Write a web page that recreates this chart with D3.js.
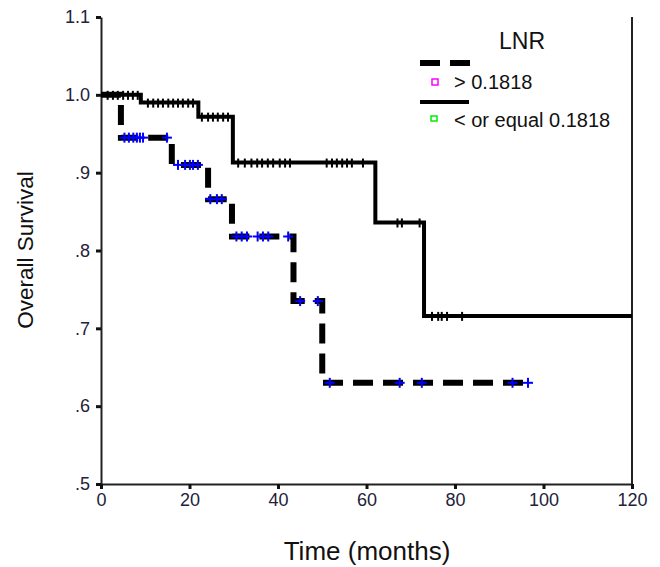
<!DOCTYPE html>
<html>
<head>
<meta charset="utf-8">
<script src="https://cdn.jsdelivr.net/npm/d3@7/dist/d3.min.js"></script>
<style>
  html, body { margin: 0; padding: 0; background: #fff; }
  svg text { font-family: "Liberation Sans", Arial, sans-serif; }
</style>
</head>
<body>
<svg id="chart" width="660" height="567"></svg>
<script>
// ---- data ----
const timeTicks = [0, 20, 40, 60, 80, 100, 120];
const survTicks = [0.5, 0.6, 0.7, 0.8, 0.9, 1.0, 1.1];
const survTickLabels = [".5", ".6", ".7", ".8", ".9", "1.0", "1.1"];

const legendTitle = "LNR";
const groupLabels = ["> 0.1818", "< or equal 0.1818"];

// LNR > 0.1818 (dashed)
const highTimes = [0, 4.5, 16, 24.2, 29.6, 43.5, 50, 96.5];
const highSurv  = [1.0, 0.945, 0.91, 0.866, 0.818, 0.735, 0.63, 0.63];
const highCensor = [5.3, 6.3, 7.3, 8.1, 8.8, 9.5, 14.9, 17.4, 19, 20.1, 20.8, 21.9,
                    24.7, 26.2, 27.3, 30.6, 31.8, 33, 35.4, 36.6, 37.8, 42.3, 45, 49,
                    51.7, 67.5, 72.5, 93, 96.5];

// LNR <= 0.1818 (solid)
const lowTimes = [0, 9, 22, 29.8, 62, 73, 120];
const lowSurv  = [1.0, 0.99, 0.972, 0.913, 0.836, 0.716, 0.716];
const lowCensor = [1.5, 2.7, 3.8, 5, 6.1, 7.2, 8.3, 10.6, 11.8, 12.9, 14, 15.2, 16.3,
                   17.4, 18.5, 19.7, 20.8, 22.8, 24.2, 25.3, 26.4, 27.6, 28.7,
                   31, 32.5, 34, 35.3, 36.4, 37.7, 38.9, 40.4, 41.6, 42.7,
                   51, 52.2, 53.3, 54.5, 55.6, 56.7, 59.2,
                   67, 68, 72, 74.8, 76.2, 77, 78.2, 81.6];

// ---- layout ----
const svg = d3.select("#chart");
const x = d3.scaleLinear().domain([0, 120]).range([101, 632]);
const y = d3.scaleLinear().domain([0.5, 1.1]).range([484, 17]);

function survAt(times, surv, t) {
  let v = surv[0];
  for (let i = 0; i < times.length; i++) if (times[i] <= t) v = surv[i];
  return v;
}
const pts = (times, surv) => times.map((t, i) => [t, surv[i]]);
const line = d3.line().x(d => x(d[0])).y(d => y(d[1])).curve(d3.curveStepAfter);

// frame
svg.append("line").attr("x1", 632).attr("x2", 632).attr("y1", y(1.1)).attr("y2", y(0.5))
  .attr("stroke", "#222").attr("stroke-width", 2);

// axes
const yAxis = d3.axisLeft(y).tickValues(survTicks)
  .tickFormat((d, i) => survTickLabels[i]).tickSize(5).tickSizeOuter(0).tickPadding(6);
const gy = svg.append("g").attr("transform", "translate(101,0)").call(yAxis);
const xAxis = d3.axisBottom(x).tickValues(timeTicks).tickSize(5).tickSizeOuter(0).tickPadding(4);
const gx = svg.append("g").attr("transform", "translate(0,484)").call(xAxis);
[gy, gx].forEach(g => {
  g.select(".domain").attr("stroke", "#222").attr("stroke-width", 2);
  g.selectAll(".tick line").attr("stroke", "#111").attr("stroke-width", 3);
  g.selectAll(".tick text").attr("fill", "#22223a").style("font-size", "18px");
});

// curves
svg.append("path").datum(pts(lowTimes, lowSurv)).attr("d", line)
  .attr("fill", "none").attr("stroke", "#000").attr("stroke-width", 4);
svg.append("path").datum(pts(highTimes, highSurv)).attr("d", line)
  .attr("fill", "none").attr("stroke", "#000").attr("stroke-width", 6)
  .attr("stroke-dasharray", "20,10");

// censor marks
svg.append("g").selectAll("line").data(lowCensor).join("line")
  .attr("x1", d => x(d)).attr("x2", d => x(d))
  .attr("y1", d => y(survAt(lowTimes, lowSurv, d)) - 4)
  .attr("y2", d => y(survAt(lowTimes, lowSurv, d)) + 5)
  .attr("stroke", "#000").attr("stroke-width", 2);
const hc = svg.append("g").selectAll("g").data(highCensor).join("g")
  .attr("transform", d => `translate(${x(d)},${y(survAt(highTimes, highSurv, d))})`);
hc.append("line").attr("x1", -5).attr("x2", 5).attr("y1", 0).attr("y2", 0)
  .attr("stroke", "#0000ff").attr("stroke-width", 2);
hc.append("line").attr("x1", 0).attr("x2", 0).attr("y1", -5).attr("y2", 5)
  .attr("stroke", "#0000ff").attr("stroke-width", 2);

// axis titles
svg.append("text").attr("x", 367).attr("y", 560).attr("text-anchor", "middle")
  .style("font-size", "26px").attr("fill", "#111").text("Time (months)");
svg.append("text").attr("transform", "translate(33,250) rotate(-90)")
  .attr("text-anchor", "middle").style("font-size", "22.5px").attr("fill", "#111")
  .text("Overall Survival");

// legend
svg.append("text").attr("x", 522).attr("y", 49).attr("text-anchor", "middle")
  .style("font-size", "23px").attr("fill", "#111").text(legendTitle);
svg.append("line").attr("x1", 420).attr("x2", 472).attr("y1", 63).attr("y2", 63)
  .attr("stroke", "#000").attr("stroke-width", 6).attr("stroke-dasharray", "20,10");
svg.append("rect").attr("x", 432).attr("y", 79).attr("width", 6).attr("height", 6)
  .attr("fill", "none").attr("stroke", "#ff00ff").attr("stroke-width", 1.5);
svg.append("text").attr("x", 454).attr("y", 89).style("font-size", "20px")
  .attr("fill", "#111").text(groupLabels[0]);
svg.append("line").attr("x1", 420).attr("x2", 469).attr("y1", 102).attr("y2", 102)
  .attr("stroke", "#000").attr("stroke-width", 4);
svg.append("rect").attr("x", 431).attr("y", 116).attr("width", 6).attr("height", 5)
  .attr("fill", "none").attr("stroke", "#00ee00").attr("stroke-width", 1.5);
svg.append("text").attr("x", 454).attr("y", 127).style("font-size", "20px")
  .attr("fill", "#111").text(groupLabels[1]);
</script>
</body>
</html>
